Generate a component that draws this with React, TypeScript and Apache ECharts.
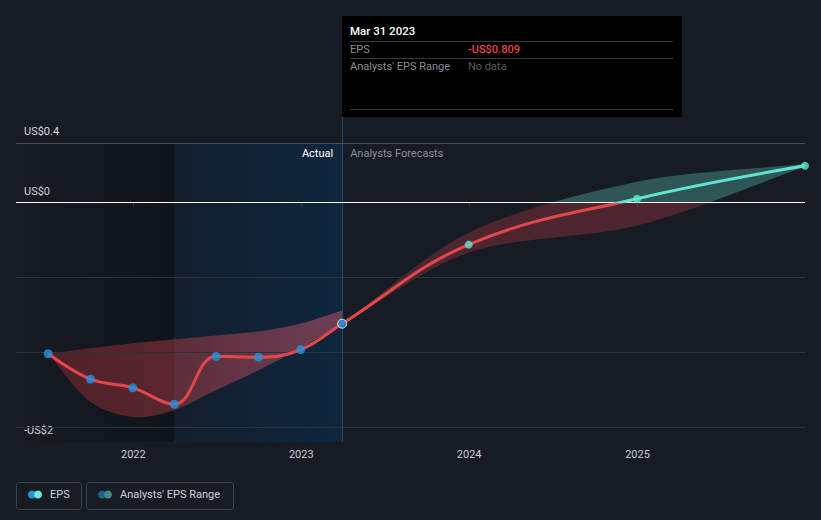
import React, { useEffect, useRef } from 'react';
import * as echarts from 'echarts';

const actualDates = ['2021-06-30', '2021-09-30', '2021-12-31', '2022-03-31', '2022-06-30', '2022-09-30', '2022-12-31', '2023-03-31'];
const actualEps = [-1.01, -1.18, -1.238, -1.347, -1.027, -1.033, -0.982, -0.809];
const forecastDates = ['2023-12-31', '2024-12-31', '2025-12-31'];
const forecastEps = [-0.28, 0.027, 0.247];

const pastRangeUpper = [-1.01, -0.973, -0.94, -0.913, -0.887, -0.86, -0.807, -0.72];
const pastRangeLower = [-1.01, -1.333, -1.433, -1.387, -1.253, -1.12, -0.973, -0.809];

const forecastRangeDates = ['2023-03-31', '2023-12-31', '2024-12-31', '2025-12-31'];
const forecastRangeUpper = [-0.809, -0.2, 0.14, 0.26];
const forecastRangeLower = [-0.809, -0.333, -0.153, 0.24];

const yTickValues = [-1.6, 0, 0.4];
const yTickLabels = ['-US$2', 'US$0', 'US$0.4'];
const yGridValues = [-1.5, -1, -0.5];
const xTickLabels = ['2022', '2023', '2024', '2025'];

const xMinDate = '2021-04-21';
const xMaxDate = '2025-12-31';
const yMin = -1.6;
const yMax = 0.5733;
const yTop = 0.4;
const actualStart = '2022-03-31';
const lastActualDate = '2023-03-31';
const tooltipTitle = 'Mar 31 2023';

const FONT = 'Roboto, "Noto Sans", sans-serif';
const FS = 11;

const t = (s: string) => new Date(s + 'T00:00:00').getTime();

export default function App() {
  const ref = useRef<HTMLDivElement>(null);

  useEffect(() => {
    document.body.style.margin = '0';
    const chart = echarts.init(ref.current!, null, { renderer: 'svg' });

    const epsDates = [...actualDates, ...forecastDates];
    const epsValues = [...actualEps, ...forecastEps];
    const lastIdx = actualDates.indexOf(lastActualDate);
    const lastVal = actualEps[lastIdx];
    const fmtVal = (v: number) => (v < 0 ? '-' : '') + 'US$' + Math.abs(v).toFixed(3);
    const xTickValues = xTickLabels.map((y) => new Date(+y, 0, 1).getTime());

    const bandPoints = (api: any, dates: string[], upper: number[], lower: number[]) => {
      const up = dates.map((d, i) => api.coord([t(d), upper[i]]));
      const lo = dates.map((d, i) => api.coord([t(d), lower[i]])).reverse();
      // repeat the end corners so the band is cut square at its last date
      return [...up, up[up.length - 1], lo[0], ...lo];
    };

    const option: any = {
      animation: false,
      backgroundColor: '#161b24',
      textStyle: { fontFamily: FONT },
      grid: { left: 16, right: 16, top: 117, bottom: 78 },
      xAxis: {
        type: 'value',
        min: t(xMinDate),
        max: t(xMaxDate),
        axisLine: { show: true, lineStyle: { color: '#3a4049', width: 1 } },
        axisTick: { show: true, length: 4, customValues: xTickValues, lineStyle: { color: '#3a4049' } },
        axisLabel: {
          customValues: xTickValues,
          formatter: (v: number) => {
            const i = xTickValues.findIndex((x) => Math.abs(x - v) < 1000);
            return i >= 0 ? xTickLabels[i] : '';
          },
          color: '#c9cbcf',
          fontSize: FS,
          fontFamily: FONT,
          margin: 7,
        },
        splitLine: { show: false },
      },
      yAxis: {
        type: 'value',
        min: yMin,
        max: yMax,
        axisLine: { show: false },
        axisTick: { show: false },
        splitLine: { show: false },
        axisLabel: {
          inside: true,
          customValues: yTickValues,
          showMinLabel: true,
          showMaxLabel: true,
          formatter: (v: number) => {
            const i = yTickValues.findIndex((x) => Math.abs(x - v) < 1e-9);
            return i >= 0 ? yTickLabels[i] : '';
          },
          color: '#d8d9dc',
          fontSize: FS,
          fontFamily: FONT,
          margin: 8,
          verticalAlign: 'bottom',
          padding: [0, 0, 6, 0],
        },
      },
      visualMap: [
        {
          type: 'piecewise',
          show: false,
          seriesIndex: 2,
          dimension: 1,
          pieces: [
            { min: -10, max: 0, color: '#e4474b' },
            { min: 0, max: 10, color: '#5fe3d0' },
          ],
        },
      ],
      series: [
        {
          type: 'custom',
          name: 'Past range',
          silent: true,
          clip: true,
          z: 2,
          data: [[t(actualDates[0]), pastRangeUpper[0]]],
          renderItem: (params: any, api: any) => ({
            type: 'polygon',
            shape: { points: bandPoints(api, actualDates, pastRangeUpper, pastRangeLower), smooth: 0.3 },
            style: {
              fill: new echarts.graphic.LinearGradient(0, 0, 1, 0, [
                { offset: 0, color: 'rgba(200,50,55,0.33)' },
                { offset: 1, color: 'rgba(225,95,115,0.45)' },
              ]),
            },
          }),
          markArea: {
            silent: true,
            data: [
              [
                {
                  xAxis: t(xMinDate),
                  yAxis: yTop,
                  itemStyle: { color: new echarts.graphic.LinearGradient(0, 0, 1, 0, [{ offset: 0, color: 'rgba(0,0,0,0)' }, { offset: 1, color: 'rgba(0,0,0,0.28)' }]) },
                },
                { xAxis: t(actualStart), yAxis: yMin },
              ],
              [
                {
                  xAxis: t(actualStart),
                  yAxis: yTop,
                  itemStyle: { color: new echarts.graphic.LinearGradient(0, 0, 1, 0, [{ offset: 0, color: 'rgba(0,60,110,0.12)' }, { offset: 1, color: 'rgba(0,60,110,0.34)' }]) },
                  label: { show: true, position: 'insideTopRight', formatter: 'Actual', color: '#ffffff', fontSize: FS, fontFamily: FONT, distance: 5, padding: [0, 4, 0, 0] },
                },
                { xAxis: t(lastActualDate), yAxis: yMin },
              ],
              [
                {
                  xAxis: t(lastActualDate),
                  yAxis: yTop,
                  itemStyle: { color: 'rgba(0,0,0,0)' },
                  label: { show: true, position: 'insideTopLeft', formatter: 'Analysts Forecasts', color: '#8b8f96', fontSize: FS, fontFamily: FONT, distance: 5, padding: [0, 0, 0, 3] },
                },
                { xAxis: t(xMaxDate), yAxis: yMin },
              ],
            ],
          },
          markLine: {
            silent: true,
            symbol: 'none',
            label: { show: false },
            data: [
              ...yGridValues.map((v) => ({ yAxis: v, lineStyle: { color: '#2c323b', width: 1, type: 'solid' } })),
              { xAxis: t(lastActualDate), lineStyle: { color: '#1e4a70', width: 1, type: 'solid' } },
              { yAxis: yTop, lineStyle: { color: '#474c55', width: 1, type: 'solid' } },
              { yAxis: 0, lineStyle: { color: '#ffffff', width: 1.2, type: 'solid' } },
            ],
          },
        },
        {
          type: 'custom',
          name: "Analysts' EPS Range",
          silent: true,
          clip: true,
          z: 2,
          data: [[t(forecastRangeDates[0]), forecastRangeUpper[0]]],
          renderItem: (params: any, api: any) => {
            const y0 = api.coord([t(forecastRangeDates[0]), 0])[1];
            return {
              type: 'polygon',
              shape: { points: bandPoints(api, forecastRangeDates, forecastRangeUpper, forecastRangeLower), smooth: 0.3 },
              style: {
                fill: new echarts.graphic.LinearGradient(0, y0 - 0.5, 0, y0 + 0.5, [
                  { offset: 0, color: 'rgba(100,225,200,0.3)' },
                  { offset: 0.5, color: 'rgba(100,225,200,0.3)' },
                  { offset: 0.5, color: 'rgba(205,62,72,0.3)' },
                  { offset: 1, color: 'rgba(205,62,72,0.3)' },
                ], true),
              },
            };
          },
        },
        {
          type: 'line',
          name: 'EPS',
          smooth: 0.4,
          symbol: 'none',
          silent: true,
          z: 6,
          lineStyle: { width: 3 },
          data: epsDates.map((d, i) => [t(d), epsValues[i]]),
        },
        {
          type: 'scatter',
          name: 'EPS actual',
          symbolSize: 9,
          silent: true,
          z: 7,
          itemStyle: { color: '#2394df' },
          data: actualDates.map((d, i) =>
            i === lastIdx
              ? { value: [t(d), actualEps[i]], itemStyle: { borderColor: '#ffffff', borderWidth: 1 } }
              : [t(d), actualEps[i]]
          ),
        },
        {
          type: 'scatter',
          name: 'EPS forecast',
          symbolSize: 8,
          silent: true,
          z: 7,
          itemStyle: { color: '#5fe3d0' },
          data: forecastDates.map((d, i) => [t(d), forecastEps[i]]),
        },
      ],
      graphic: [
        {
          type: 'group',
          x: 342,
          y: 16,
          silent: true,
          children: [
            { type: 'rect', shape: { x: 0, y: 0, width: 340, height: 101 }, style: { fill: '#000000' } },
            { type: 'text', x: 8, y: 15, style: { text: tooltipTitle, fill: '#ffffff', fontSize: 11.5, fontWeight: 500, fontFamily: FONT, verticalAlign: 'middle' } },
            { type: 'line', shape: { x1: 8, y1: 25.5, x2: 331, y2: 25.5 }, style: { stroke: '#3a3a3a', lineWidth: 1 } },
            { type: 'text', x: 8, y: 33.5, style: { text: 'EPS', fill: '#8a8d92', fontSize: FS, fontFamily: FONT, verticalAlign: 'middle' } },
            { type: 'text', x: 126, y: 33.5, style: { text: fmtVal(lastVal), fill: '#e4474b', fontSize: FS, fontWeight: 500, fontFamily: FONT, verticalAlign: 'middle' } },
            { type: 'line', shape: { x1: 8, y1: 42.5, x2: 331, y2: 42.5 }, style: { stroke: '#3a3a3a', lineWidth: 1 } },
            { type: 'text', x: 8, y: 50.5, style: { text: "Analysts' EPS Range", fill: '#8a8d92', fontSize: FS, fontFamily: FONT, verticalAlign: 'middle' } },
            { type: 'text', x: 126, y: 50.5, style: { text: 'No data', fill: '#555a60', fontSize: FS, fontFamily: FONT, verticalAlign: 'middle' } },
            { type: 'line', shape: { x1: 8, y1: 93.5, x2: 331, y2: 93.5 }, style: { stroke: '#3a3a3a', lineWidth: 1 } },
          ],
        },
        {
          type: 'group',
          x: 0,
          y: 0,
          silent: true,
          children: [
            { type: 'rect', shape: { x: 16.5, y: 482.5, width: 65, height: 27, r: 3 }, style: { fill: 'none', stroke: '#3d424b', lineWidth: 1 } },
            { type: 'circle', shape: { cx: 32, cy: 494.5, r: 4 }, style: { fill: '#2394df' } },
            { type: 'circle', shape: { cx: 38, cy: 494.5, r: 4 }, style: { fill: '#6fe6d6' } },
            { type: 'text', x: 50, y: 494.5, style: { text: 'EPS', fill: '#d0d2d6', fontSize: FS, fontFamily: FONT, verticalAlign: 'middle' } },
            { type: 'rect', shape: { x: 86.5, y: 482.5, width: 147, height: 27, r: 3 }, style: { fill: 'none', stroke: '#3d424b', lineWidth: 1 } },
            { type: 'circle', shape: { cx: 102, cy: 494.5, r: 4 }, style: { fill: '#1e5e8a' } },
            { type: 'circle', shape: { cx: 108, cy: 494.5, r: 4 }, style: { fill: '#3d8a86' } },
            { type: 'text', x: 120, y: 494.5, style: { text: "Analysts' EPS Range", fill: '#d0d2d6', fontSize: FS, fontFamily: FONT, verticalAlign: 'middle' } },
          ],
        },
      ],
    };

    chart.setOption(option);
    return () => chart.dispose();
  }, []);

  return <div ref={ref} style={{ width: 821, height: 520 }} />;
}
